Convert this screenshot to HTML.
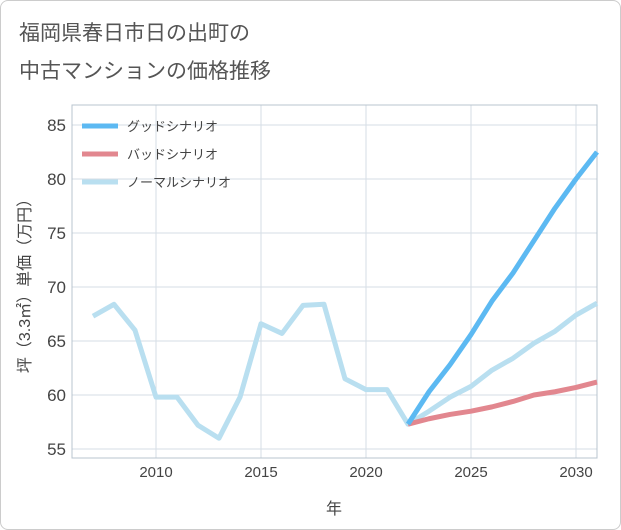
<!DOCTYPE html>
<html><head><meta charset="utf-8"><style>
body{margin:0;background:#fff;}
#wrap{position:relative;width:619px;height:528px;border:1px solid #ccc;border-radius:8px;font-family:"Liberation Sans","Noto Sans CJK JP",sans-serif;overflow:hidden}
.title{position:absolute;left:18px;font-size:21px;color:#555;}
</style></head><body>
<div id="wrap">
<div class="title" style="top:16px">福岡県春日市日の出町の</div>
<div class="title" style="top:54px">中古マンションの価格推移</div>
<svg id="chart" width="621" height="530" style="position:absolute;left:-1px;top:-1px"></svg>
</div>
<script>
const years=[2007,2008,2009,2010,2011,2012,2013,2014,2015,2016,2017,2018,2019,2020,2021,2022,2023,2024,2025,2026,2027,2028,2029,2030,2031];
const normal=[67.3,68.4,66,59.8,59.8,57.2,56,59.8,66.6,65.7,68.3,68.4,61.5,60.5,60.5,57.3,58.5,59.8,60.8,62.3,63.4,64.8,65.9,67.4,68.5];
const futureYears=[2022,2023,2024,2025,2026,2027,2028,2029,2030,2031];
const good=[57.3,60.3,62.8,65.6,68.7,71.3,74.3,77.3,80.0,82.5];
const bad=[57.3,57.8,58.2,58.5,58.9,59.4,60.0,60.3,60.7,61.2];
const xTicks=[2010,2015,2020,2025,2030];
const yTicks=[55,60,65,70,75,80,85];
const L=72,R=597,T=105,B=458;
const x=v=>L+(v-2006)*21;
const y=v=>125+(85-v)*10.8;
const svg=document.getElementById('chart');
const NS='http://www.w3.org/2000/svg';
function mk(t,a){const e=document.createElementNS(NS,t);for(const k in a)e.setAttribute(k,a[k]);svg.appendChild(e);return e;}
xTicks.forEach(v=>{const l=mk('line',{x1:x(v),x2:x(v),y1:T,y2:B,stroke:'#d5dde5','stroke-width':1});


const t=mk('text',{x:x(v),y:477,'text-anchor':'middle','font-size':15,fill:'#444','font-family':'Liberation Sans, sans-serif'});t.textContent=v;

});
yTicks.forEach(v=>{const l=mk('line',{x1:L,x2:R,y1:y(v),y2:y(v),stroke:'#d5dde5','stroke-width':1});


const t=mk('text',{x:66,y:y(v)+6,'text-anchor':'end','font-size':17,fill:'#444','font-family':'Liberation Sans, sans-serif'});t.textContent=v;

});
const fr=mk('rect',{x:L,y:T,width:R-L,height:B-T,fill:'none',stroke:'#b8c4cf','stroke-width':1});


function line(xs,ys,c,n){const p=mk('polyline',{points:xs.map((v,i)=>x(v)+','+y(ys[i])).join(' '),fill:'none',stroke:c,'stroke-width':5,'stroke-linejoin':'round'});

}
line(years,normal,'#b9dff0','normal-scenario-line');
line(futureYears,bad,'#e2878f','bad-scenario-line');
line(futureYears,good,'#5cb9f2','good-scenario-line');
const leg=[['グッドシナリオ','#5cb9f2'],['バッドシナリオ','#e2878f'],['ノーマルシナリオ','#b9dff0']];
leg.forEach((d,i)=>{const yy=126+i*28;
const l=mk('line',{x1:82,x2:118,y1:yy,y2:yy,stroke:d[1],'stroke-width':5});


const t=mk('text',{x:127,y:yy+5,'font-size':13,fill:'#444','font-family':'Liberation Sans, Noto Sans CJK JP, sans-serif'});t.textContent=d[0];

});
const yl=mk('text',{transform:'translate(30,282) rotate(-90)','text-anchor':'middle','font-size':16,fill:'#444','font-family':'Liberation Sans, Noto Sans CJK JP, sans-serif'});yl.textContent='坪（3.3㎡）単価（万円）';


const xl=mk('text',{x:334,y:514,'text-anchor':'middle','font-size':16,fill:'#444','font-family':'Liberation Sans, Noto Sans CJK JP, sans-serif'});xl.textContent='年';


</script>
</body></html>
